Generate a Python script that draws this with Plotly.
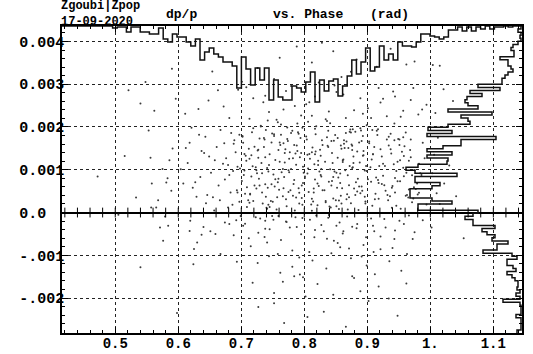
import numpy as np
import plotly.graph_objects as go

# ---------------- data ----------------
x_range = [0.4155, 1.1455]
y_range = [-0.002816, 0.004361]

x_tickvals = [0.5, 0.6, 0.7, 0.8, 0.9, 1.0, 1.1]
x_ticktext = ["0.5", "0.6", "0.7", "0.8", "0.9", "1.", "1.1"]
y_tickvals = [0.004, 0.003, 0.002, 0.001, 0.0, -0.001, -0.002]
y_ticktext = ["0.004", "0.003", "0.002", "0.001", "0.0  ", "-.001", "-.002"]

# scatter points: phase (rad) and dp/p (units of 1e-3)
phase = [
    # 0.70-0.80 core
    0.703, 0.747, 0.781, 0.716, 0.769, 0.792, 0.731, 0.758, 0.709, 0.786,
    0.724, 0.763, 0.799, 0.712, 0.741, 0.776, 0.753, 0.737, 0.796, 0.705,
    0.788, 0.719, 0.766, 0.744, 0.728, 0.772, 0.707, 0.759, 0.783, 0.734,
    0.751, 0.794, 0.723, 0.778, 0.714, 0.762, 0.739, 0.701, 0.787, 0.748,
    0.771, 0.727, 0.756, 0.795, 0.717, 0.742, 0.779, 0.733, 0.764, 0.708,
    0.789, 0.721, 0.752, 0.774, 0.745, 0.797, 0.711, 0.768, 0.736, 0.782,
    0.726, 0.757, 0.704, 0.791, 0.743, 0.773, 0.718, 0.761, 0.785, 0.738,
    0.749, 0.798, 0.713, 0.777, 0.729, 0.754, 0.793, 0.706, 0.767, 0.732,
    0.760, 0.716, 0.784, 0.740, 0.770, 0.725, 0.750, 0.790, 0.702, 0.775,
    # 0.80-0.90 core
    0.804, 0.846, 0.873, 0.817, 0.861, 0.892, 0.829, 0.857, 0.811, 0.884,
    0.823, 0.866, 0.899, 0.813, 0.842, 0.878, 0.852, 0.836, 0.896, 0.806,
    0.887, 0.819, 0.868, 0.845, 0.827, 0.874, 0.808, 0.859, 0.882, 0.834,
    0.851, 0.893, 0.822, 0.879, 0.815, 0.863, 0.838, 0.801, 0.888, 0.847,
    0.871, 0.826, 0.855, 0.894, 0.818, 0.843, 0.877, 0.832, 0.865, 0.809,
    0.889, 0.821, 0.853, 0.875, 0.844, 0.897, 0.812, 0.869, 0.837, 0.881,
    0.825, 0.858, 0.805, 0.891, 0.841, 0.872, 0.816, 0.862, 0.886, 0.839,
    0.849, 0.898, 0.814, 0.876, 0.828, 0.854, 0.894, 0.807, 0.867, 0.833,
    0.860, 0.817, 0.885, 0.840, 0.870, 0.824, 0.850, 0.890, 0.803, 0.876,
    # 0.90-1.00
    0.903, 0.936, 0.961, 0.914, 0.948, 0.977, 0.921, 0.952, 0.908, 0.969,
    0.927, 0.957, 0.984, 0.911, 0.939, 0.966, 0.944, 0.931, 0.973, 0.905,
    0.951, 0.917, 0.963, 0.942, 0.925, 0.971, 0.909, 0.955, 0.979, 0.933,
    0.946, 0.988, 0.919, 0.974, 0.913, 0.959, 0.937, 0.901, 0.982, 0.943,
    0.965, 0.923, 0.953, 0.991, 0.916, 0.940, 0.975, 0.929, 0.962, 0.907,
    0.986, 0.918, 0.949, 0.968, 0.938, 0.994, 0.912, 0.958, 0.934, 0.980,
    # 0.60-0.70
    0.612, 0.655, 0.684, 0.627, 0.671, 0.693, 0.641, 0.664, 0.618, 0.697,
    0.633, 0.676, 0.604, 0.646, 0.689, 0.658, 0.623, 0.681, 0.637, 0.667,
    0.652, 0.698, 0.615, 0.686, 0.643, 0.674, 0.629, 0.661, 0.694, 0.649,
    0.679, 0.635, 0.666, 0.608, 0.691, 0.657, 0.621, 0.673, 0.644, 0.687,
    # upper band
    0.611, 0.648, 0.672, 0.695, 0.713, 0.738, 0.752, 0.767, 0.779, 0.795,
    0.808, 0.823, 0.839, 0.851, 0.866, 0.874, 0.889, 0.901, 0.918, 0.931,
    0.944, 0.957, 0.969, 0.981, 0.994, 1.008, 1.021, 1.036, 0.726, 0.761,
    0.812, 0.846, 0.883, 0.915, 0.962, 0.975, 1.004, 1.015, 0.654, 0.701,
    0.788, 0.859, 0.937, 0.828, 0.742,
    # left, sparse
    0.533, 0.540, 0.553, 0.556, 0.558, 0.557, 0.565, 0.568, 0.571, 0.576,
    0.579, 0.581, 0.583, 0.584, 0.586, 0.591, 0.589, 0.596, 0.548, 0.598,
    0.515, 0.562, 0.505, 0.575, 0.521, 0.590, 0.540, 0.472,
    # below zero
    0.619, 0.618, 0.640, 0.651, 0.659, 0.637, 0.625, 0.624, 0.667, 0.681,
    0.630, 0.699, 0.692, 0.712, 0.737, 0.741, 0.730, 0.738, 0.751, 0.777,
    0.788, 0.781, 0.792, 0.693, 0.718, 0.752, 0.762, 0.766, 0.784, 0.793,
    0.805, 0.862, 0.876, 0.879, 0.821, 0.843, 0.851, 0.909, 0.911, 0.921,
    0.940, 0.910, 0.902, 0.934, 0.706, 0.723, 0.745, 0.759, 0.771, 0.797,
    0.809, 0.816, 0.827, 0.838, 0.847, 0.856, 0.868, 0.883, 0.894, 0.927,
    0.944, 0.958, 0.972, 0.988, 0.813, 0.835, 0.857, 0.874, 0.899, 0.954,
    0.727, 0.768, 0.802, 0.831, 0.866, 0.918, 0.948, 0.963, 0.889, 0.744,
    # beyond 1.0
    1.003, 1.010, 1.006, 1.015, 1.022, 1.002, 1.030, 1.041, 1.012, 1.053,
    # more core
    0.714, 0.782, 0.846, 0.903, 0.758, 0.821, 0.877, 0.939, 0.694, 0.805,
    0.733, 0.867, 0.791, 0.925, 0.748, 0.858, 0.812, 0.971, 0.702, 0.836,
    0.769, 0.884, 0.743, 0.951, 0.827, 0.679, 0.897, 0.763, 0.853, 0.917,
    0.721, 0.796, 0.863, 0.932, 0.787, 0.848, 0.709, 0.874, 0.957, 0.818,
    0.754, 0.841, 0.906, 0.776, 0.683, 0.893, 0.829, 0.946, 0.736, 0.869,
    0.801, 0.915, 0.761, 0.855, 0.724, 0.887, 0.937, 0.779, 0.843, 0.966,
    0.745, 0.812, 0.878, 0.923, 0.697, 0.767, 0.834, 0.899, 0.958, 0.784,
    0.731, 0.861, 0.944, 0.817, 0.739, 0.889, 0.798, 0.928, 0.864, 0.713,
    0.773, 0.851, 0.909, 0.826, 0.688, 0.952, 0.792, 0.871, 0.741, 0.982,
    0.759, 0.838, 0.918, 0.806, 0.881, 0.727, 0.943, 0.857, 0.775, 0.896,
    0.719, 0.844, 0.789, 0.934, 0.872, 0.752, 0.822, 0.961, 0.705, 0.908,
    0.766, 0.815, 0.891, 0.738, 0.859, 0.948, 0.797, 0.876, 0.729, 0.969,
    # more 2-3 band
    0.632, 0.681, 0.719, 0.744, 0.771, 0.803, 0.834, 0.862, 0.893, 0.921,
    0.953, 0.987, 0.708, 0.756, 0.817, 0.879, 0.941, 0.663, 0.785, 0.848,
    0.906, 0.973, 0.735, 0.812, 0.925,
    # more below zero
    0.703, 0.727, 0.749, 0.772, 0.795, 0.817, 0.839, 0.861, 0.884, 0.906,
    0.929, 0.951, 0.975, 0.688, 0.715, 0.738, 0.763, 0.786, 0.808, 0.831,
    0.853, 0.876, 0.898, 0.921, 0.943, 0.966, 0.726, 0.781, 0.836, 0.891,
    0.674, 0.758, 0.819, 0.871, 0.935, 0.798, 0.846, 0.752, 0.912, 0.962,
]
dpp_e3 = [
    1.63, 0.27, 1.91, 0.84, 1.17, 0.46, 2.03, 0.71, 0.13, 1.38,
    0.56, 1.82, 0.93, 1.49, 0.09, 1.26, 0.61, 1.71, 0.34, 0.98,
    1.57, 1.97, 0.38, 1.11, 0.79, 0.15, 1.33, 1.46, 0.67, 0.21,
    0.89, 1.74, 1.06, 0.52, 0.42, 1.58, 1.93, 0.74, 1.12, 1.64,
    0.31, 1.28, 0.07, 1.39, 1.88, 0.58, 1.02, 0.47, 0.94, 1.21,
    2.08, 0.63, 1.79, 1.67, 1.36, 0.18, 0.29, 0.83, 1.53, 0.39,
    1.45, 0.36, 0.88, 0.57, 0.96, 1.99, 1.08, 1.19, 0.05, 0.66,
    1.85, 1.07, 0.23, 1.41, 1.73, 0.78, 1.29, 0.44, 1.62, 1.16,
    0.53, 1.34, 0.76, 0.11, 1.48, 0.92, 0.25, 1.88, 1.77, 0.99,
    1.71, 0.33, 1.94, 0.77, 1.22, 0.51, 1.58, 0.69, 0.19, 1.43,
    0.62, 1.86, 0.97, 1.52, 0.12, 1.31, 0.58, 1.76, 0.37, 1.03,
    1.64, 2.02, 0.43, 1.16, 0.84, 0.22, 1.37, 1.49, 0.71, 0.27,
    0.93, 1.79, 1.11, 0.56, 0.47, 1.61, 1.91, 0.81, 1.17, 1.68,
    0.36, 1.33, 0.08, 1.44, 1.83, 0.63, 1.06, 0.52, 0.99, 1.26,
    1.97, 0.68, 1.74, 1.59, 1.39, 0.21, 0.32, 0.87, 1.56, 0.41,
    1.47, 0.39, 0.91, 0.61, 1.01, 1.89, 1.13, 1.24, 0.06, 0.72,
    1.81, 1.09, 0.26, 1.46, 1.69, 0.82, 1.34, 0.48, 1.66, 1.19,
    0.57, 1.36, 0.79, 0.14, 1.51, 0.96, 0.29, 1.92, 1.78, 1.04,
    1.66, 0.38, 1.87, 0.82, 1.19, 0.55, 1.48, 0.73, 0.16, 1.29,
    0.64, 1.76, 0.92, 1.53, 0.11, 1.21, 0.47, 1.71, 0.33, 1.06,
    1.58, 1.95, 0.41, 1.13, 0.86, 0.24, 1.36, 1.42, 0.68, 0.29,
    0.97, 1.63, 1.09, 0.59, 0.44, 1.55, 1.84, 0.78, 1.14, 1.69,
    0.35, 1.31, 0.09, 1.27, 1.81, 0.62, 0.99, 0.51, 0.93, 1.24,
    0.88, 0.69, 1.72, 1.46, 1.38, 0.19, 0.31, 0.85, 1.57, 0.42,
    1.51, 0.36, 1.86, 0.71, 1.14, 0.52, 1.39, 0.63, 1.63, 0.25,
    1.82, 1.27, 1.01, 0.41, 1.69, 1.22, 0.58, 0.88, 1.44, 1.93,
    0.93, 1.03, 1.16, 0.18, 1.77, 0.77, 0.37, 1.53, 0.47, 1.31,
    0.12, 0.83, 0.29, 0.68, 1.41, 0.05, 1.98, 1.62, 0.22, 0.97,
    2.31, 2.62, 2.48, 2.87, 2.19, 2.73, 3.12, 2.41, 2.96, 2.27,
    2.58, 3.04, 2.36, 2.82, 2.21, 3.29, 2.67, 2.44, 2.91, 2.25,
    2.71, 2.38, 2.63, 2.29, 2.52, 2.33, 2.88, 2.61, 3.38, 3.62,
    3.51, 3.77, 3.58, 3.41, 3.46, 3.53, 3.45, 3.43, 3.30, 3.06,
    3.88, 3.17, 3.83, 3.97, 2.15,
    0.35, -1.28, 1.92, 1.28, 0.68, 0.12, 0.12, 0.29, -0.35, -0.66,
    -0.09, 0.70, 0.80, -0.31, 1.22, 1.50, 0.51, 2.66, 3.05, -2.35,
    1.32, 2.38, -0.05, 1.02, 2.86, 3.36, 2.55, 0.84,
    -0.19, -0.43, -0.34, -0.44, -0.50, -0.52, -0.85, -1.21, -0.97, -0.27,
    -0.70, -0.08, -0.18, -0.60, -0.57, -0.70, -0.14, -0.19, -0.17, -0.35,
    -0.34, -0.89, -1.05, -1.15, -1.64, -1.88, -1.41, -1.62, -1.49, -1.45,
    -2.44, -0.44, -1.49, -1.53, -1.67, -0.95, -0.31, -0.31, -0.44, -0.56,
    -0.83, -0.92, -2.07, -2.01, -0.26, -0.11, -0.39, -0.08, -0.21, -0.13,
    -0.17, -0.58, -0.29, -0.12, -0.66, -0.23, -0.09, -0.37, -0.76, -0.15,
    -0.42, -0.27, -0.62, -0.18, -1.12, -1.31, -0.81, -1.07, -1.24, -1.36,
    -2.21, -2.58, -1.96, -2.32, -2.67, -1.73, -2.41, -0.97, -1.84, -1.02,
    0.92, 0.45, 1.35, 0.20, 0.68, -0.35, 1.10, 0.38, 1.75, -0.60,
    0.44, 1.27, 0.83, 1.62, 2.11, 0.17, 1.95, 0.58, 1.07, 1.35,
    0.92, 0.31, 1.84, 1.14, 0.66, 1.57, 0.04, 0.87, 1.79, 2.14,
    1.39, 0.49, 0.18, 1.71, 1.02, 1.11, 0.26, 2.06, 1.28, 0.76,
    1.54, 0.63, 1.69, 0.41, 0.35, 0.96, 0.59, 1.87, 1.05, 1.43,
    1.23, 2.09, 0.72, 0.94, 0.47, 1.33, 0.52, 0.16, 1.74, 0.07,
    0.84, 1.91, 1.64, 0.28, 0.99, 0.61, 1.48, 1.86, 1.67, 0.54,
    0.13, 1.41, 1.16, 0.67, 1.82, 0.57, 0.24, 2.04, 1.32, 1.58,
    2.01, 1.18, 0.81, 1.96, 0.37, 0.45, 0.69, 1.09, 1.51, 1.26,
    1.72, 0.15, 1.36, 0.88, 1.61, 1.22, 0.21, 0.64, 1.04, 0.46,
    0.79, 1.53, 0.32, 2.12, 1.89, 1.47, 2.08, 0.91, 0.48, 0.98,
    0.27, 0.74, 1.44, 1.77, 1.09, 1.83, 1.21, 0.39, 1.37, 1.93,
    1.02, 0.56, 1.67, 1.29, 0.21, 0.73, 1.98, 1.56, 0.63, 1.71,
    2.42, 2.21, 2.67, 2.35, 2.84, 2.53, 2.18, 2.76, 2.31, 2.57,
    2.24, 2.41, 2.93, 2.17, 2.71, 2.39, 2.83, 2.86, 2.49, 2.97,
    2.21, 2.91, 2.58, 2.26, 2.66,
    -0.31, -0.47, -0.08, -0.22, -0.51, -0.41, -0.06, -0.49, -0.27, -0.14,
    -0.35, -0.19, -0.46, -0.53, -0.79, -0.38, -0.64, -0.11, -0.92, -0.44,
    -0.71, -0.33, -0.58, -0.86, -0.62, -0.07, -1.18, -1.27, -0.61, -1.03,
    -0.23, -0.97, -0.07, -0.84, -1.14, -1.51, -1.92, -2.12, -1.44, -1.66,
]

# projected histogram of phase (100 bins across the x range), counts
phase_hist = [
    0, 0, 0, 0, 0, 0, 0, 0, 0, 0,
    0, 2, 1, 1, 6, 1, 1, 6, 6, 8,
    8, 2, 13, 16, 8, 11, 11, 16, 20, 13,
    34, 26, 22, 28, 31, 36, 36, 40, 62, 31,
    43, 59, 42, 54, 42, 74, 54, 71, 74, 74,
    60, 62, 66, 56, 46, 76, 54, 65, 55, 53,
    70, 60, 50, 34, 48, 36, 22, 45, 41, 20,
    34, 28, 34, 16, 20, 20, 21, 16, 8, 8,
    10, 11, 13, 11, 4, 4, 1, 5, 1, 5,
    1, 3, 0, 3, 1, 1, 0, 1, 0, 0,
]
# projected histogram of dp/p (100 bins, from top of range downward), counts
dpp_hist = [
    1, 4, 1, 2, 1, 4, 9, 11, 8, 8,
    22, 14, 14, 11, 9, 14, 17, 20, 20, 44,
    22, 52, 40, 55, 57, 54, 44, 74, 30, 61,
    54, 52, 74, 94, 70, 95, 26, 61, 61, 79,
    95, 70, 95, 74, 75, 104, 116, 107, 65, 107,
    107, 82, 90, 112, 112, 112, 90, 70, 104, 104,
    44, 49, 57, 49, 49, 27, 40, 35, 27, 30,
    14, 25, 25, 39, 10, 5, 15, 15, 9, 6,
    15, 10, 7, 4, 4, 5, 2, 6, 2, 19,
    2, 1, 1, 1, 6, 1, 1, 1, 1, 5,
]

# ---------------- figure ----------------
FONT = "Liberation Mono"
W, H = 533, 354
ML, MR, MT, MB = 62, 11, 26, 21
plot_w = W - ML - MR
plot_h = H - MT - MB
x_per_px = (x_range[1] - x_range[0]) / plot_w
y_per_px = (y_range[1] - y_range[0]) / plot_h

fig = go.Figure()

fig.add_trace(go.Scatter(
    x=phase, y=[v * 1e-3 for v in dpp_e3], mode="markers",
    marker=dict(size=2, color="#3a3a3a", line=dict(width=0)),
    hoverinfo="skip", showlegend=False,
))

# top histogram (hanging from top frame)
nb = len(phase_hist)
xedges = np.linspace(x_range[0], x_range[1], nb + 1)
hx, hy = [], []
for i, c in enumerate(phase_hist):
    yv = y_range[1] - c * y_per_px
    hx += [xedges[i], xedges[i + 1]]
    hy += [yv, yv]
fig.add_trace(go.Scatter(x=hx, y=hy, mode="lines",
                         line=dict(color="#111111", width=1.5),
                         hoverinfo="skip", showlegend=False))

# right histogram (hanging from right frame)
nr = len(dpp_hist)
yedges = np.linspace(y_range[1], y_range[0], nr + 1)
rx, ry = [], []
for j, c in enumerate(dpp_hist):
    xv = x_range[1] - c * x_per_px
    rx += [xv, xv]
    ry += [yedges[j], yedges[j + 1]]
fig.add_trace(go.Scatter(x=rx, y=ry, mode="lines",
                         line=dict(color="#111111", width=1.5),
                         hoverinfo="skip", showlegend=False))

# tick marks along the zero line
zt = np.arange(0.42, x_range[1], 0.02)
fig.add_trace(go.Scatter(x=zt, y=[0] * len(zt), mode="markers",
                         marker=dict(symbol="line-ns", size=7,
                                     line=dict(width=1, color="black")),
                         hoverinfo="skip", showlegend=False))

axis_common = dict(
    showline=True, linecolor="black", linewidth=1.5, mirror="allticks",
    ticks="inside", ticklen=6, tickwidth=1, tickcolor="black",
    showgrid=True, gridcolor="#222222", gridwidth=1, griddash="dot",
    automargin=False,
)

fig.update_xaxes(range=x_range, tickvals=x_tickvals, ticktext=x_ticktext,
                 zeroline=False,
                 tickfont=dict(family=FONT, size=14, color="black", weight="bold"),
                 ticklabelstandoff=-4,
                 minor=dict(dtick=0.02, tick0=0.0, ticks="inside", ticklen=3,
                            tickcolor="black", showgrid=False),
                 **axis_common)
fig.update_yaxes(range=y_range, tickvals=y_tickvals, ticktext=y_ticktext,
                 zeroline=True, zerolinecolor="black", zerolinewidth=1.5,
                 tickfont=dict(family=FONT, size=15, color="black", weight="bold"),
                 minor=dict(dtick=0.0002, tick0=0.0, ticks="inside", ticklen=3,
                            tickcolor="black", showgrid=False),
                 ticklabelstandoff=-7,
                 **axis_common)

def ann(text, px, py, size=13, yanchor="middle"):
    fig.add_annotation(text=text, xref="paper", yref="paper",
                       x=(px - ML) / plot_w, y=(H - MB - py) / plot_h,
                       xanchor="left", yanchor=yanchor, showarrow=False,
                       align="left",
                       font=dict(family=FONT, size=size, color="black", weight="bold"),
                       borderpad=0)

ann("Zgoubi|Zpop<br>17-09-2020", 60, -1.5, 12, yanchor="top")
ann("dp/p", 165, 15)
ann("vs. Phase", 272, 15)
ann("(rad)", 369, 15)

fig.update_layout(
    width=W, height=H,
    margin=dict(l=ML, r=MR, t=MT, b=MB),
    paper_bgcolor="white", plot_bgcolor="white",
    showlegend=False,
)

fig.write_html("out.html")
